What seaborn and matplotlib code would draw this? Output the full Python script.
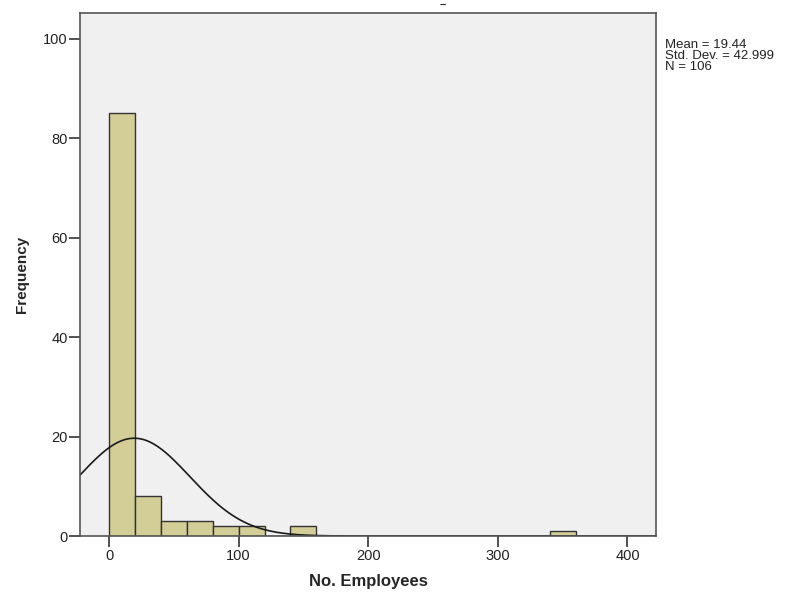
import numpy as np
import pandas as pd
import matplotlib
matplotlib.use("Agg")
import matplotlib.pyplot as plt
import seaborn as sns

# Histogram data (bin width 20)
bin_edges = [0, 20, 40, 60, 80, 100, 120, 140, 160, 180, 200, 220, 240, 260, 280, 300, 320, 340, 360]
counts =    [85, 8, 3, 3, 2, 2, 0, 2, 0, 0, 0, 0, 0, 0, 0, 0, 0, 1]
mean_val = 19.44
sd_val = 42.999
n_val = 106
x_ticks = [0, 100, 200, 300, 400]
y_ticks = [0, 20, 40, 60, 80, 100]

sns.set_theme(style="white")
plt.rcParams['font.family'] = ['Liberation Sans', 'DejaVu Sans']

fig = plt.figure(figsize=(7.95, 5.97), dpi=100)
ax = fig.add_axes([80/795, 1-536/597, (656-80)/795, (536-13)/597])
ax.set_facecolor('#F0F0F0')

centers = [(bin_edges[i] + bin_edges[i+1]) / 2 for i in range(len(counts))]
df = pd.DataFrame({"x": centers, "w": counts})
sns.histplot(data=df, x="x", weights="w", bins=bin_edges, ax=ax,
             color='#D3CE97', alpha=1.0, edgecolor='#333333', linewidth=1.0)

# Normal curve scaled to counts
bw = 20
xs = np.linspace(-25, 425, 600)
ys = n_val * bw / (sd_val * np.sqrt(2*np.pi)) * np.exp(-0.5*((xs-mean_val)/sd_val)**2)
sns.lineplot(x=xs, y=ys, ax=ax, color='#1a1a1a', linewidth=1.2)

ax.set_xlim(-22.4, 422)
ax.set_ylim(0, 105.2)
ax.set_xticks(x_ticks)
ax.set_yticks(y_ticks)
ax.tick_params(axis='both', direction='out', length=8, width=1.2, color='#333333',
               labelsize=10.5, labelcolor='#222222', bottom=True, left=True, pad=1)
for s in ax.spines.values():
    s.set_color('#555555')
    s.set_linewidth(1.2)
    s.set_visible(True)

ax.set_xlabel("No. Employees", fontsize=12, fontweight='bold', labelpad=8)
ax.set_ylabel("Frequency", fontsize=11, fontweight='bold', labelpad=10)

fig.text(665/795, 1-39/597, f"Mean = {mean_val:.2f}\nStd. Dev. = {sd_val:.3f}\nN = {n_val}",
         fontsize=9.5, va='top', ha='left', color='#222222', linespacing=0.9)
fig.text(443/795, 1-0.5/597, "–", fontsize=8, ha='center', va='top',
         fontweight='bold', color='#222222')

fig.savefig("out.png", dpi=100)
